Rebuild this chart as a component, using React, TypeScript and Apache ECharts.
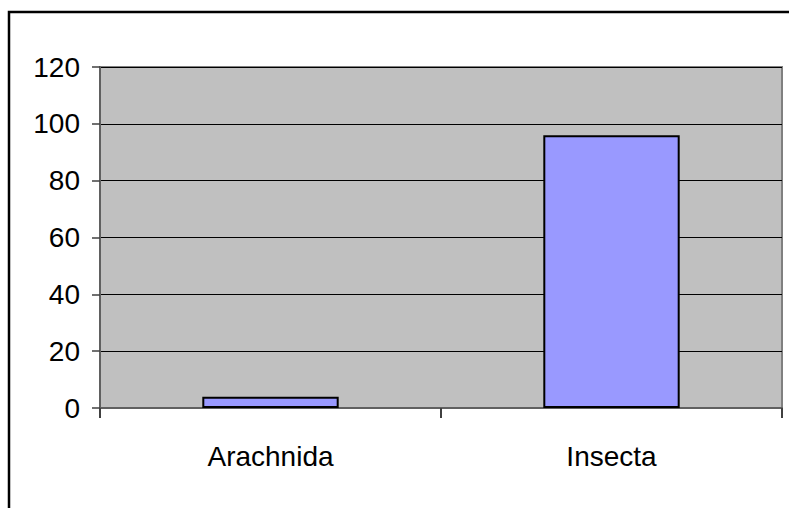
import React, { useEffect, useRef } from "react";
import * as echarts from "echarts";

const categories = ["Arachnida", "Insecta"];
const values = [4, 96];
const yTicks = { min: 0, max: 120, interval: 20 };

const FONT = "'Liberation Sans', Arial, sans-serif";

export default function App() {
  const ref = useRef<HTMLDivElement>(null);
  useEffect(() => {
    const chart = echarts.init(ref.current!, null, { renderer: "svg" });
    chart.setOption({
      animation: false,
      backgroundColor: "#ffffff",
      textStyle: { fontFamily: FONT },
      graphic: [
        {
          type: "rect",
          shape: { x: 9, y: 12, width: 820, height: 620 },
          style: { fill: "none", stroke: "#000", lineWidth: 2.5 },
          silent: true,
          z: 100,
        },
      ],
      grid: {
        left: 100,
        top: 67,
        right: 7,
        bottom: 100,
        show: true,
        backgroundColor: "#C0C0C0",
        borderColor: "#808080",
        borderWidth: 2,
      },
      xAxis: {
        type: "category",
        data: categories,
        boundaryGap: true,
        axisLine: { show: true, lineStyle: { color: "#606060", width: 2 } },
        axisTick: { show: true, length: 10, lineStyle: { color: "#404040", width: 2 } },
        axisLabel: {
          color: "#000",
          fontSize: 28,
          margin: 34,
          fontFamily: FONT,
        },
      },
      yAxis: {
        type: "value",
        min: yTicks.min,
        max: yTicks.max,
        interval: yTicks.interval,
        axisLine: { show: true, lineStyle: { color: "#606060", width: 2 } },
        axisTick: { show: true, length: 8, lineStyle: { color: "#404040", width: 1.5 } },
        splitLine: { show: true, lineStyle: { color: "#000", width: 1 } },
        axisLabel: {
          color: "#000",
          fontSize: 28,
          margin: 20,
          fontFamily: FONT,
        },
      },
      series: [
        {
          type: "bar",
          data: values,
          barWidth: "40%",
          itemStyle: { color: "#9999FF", borderColor: "#000", borderWidth: 2 },
        },
      ],
    });
    return () => chart.dispose();
  }, []);
  return (
    <div
      ref={ref}
      style={{ position: "fixed", left: 0, top: 0, width: 789, height: 508 }}
    />
  );
}
